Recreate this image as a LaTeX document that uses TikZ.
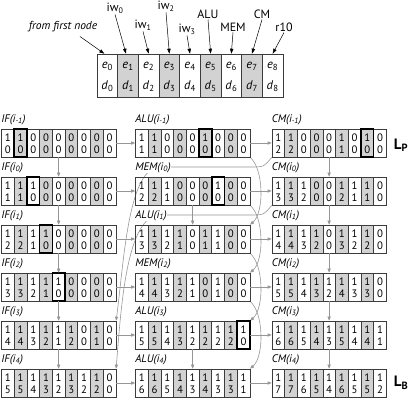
\documentclass[tikz,border=0pt]{standalone}
\usepackage{fontspec}
\setmainfont{PT Sans}
\usetikzlibrary{arrows.meta}
\pgfdeclarelayer{bg}
\pgfsetlayers{bg,main}
\definecolor{cellgray}{RGB}{210,210,210}
\definecolor{linegray}{RGB}{60,60,60}
\definecolor{arrgray}{RGB}{150,150,150}
\newcommand\dbox[7]{%
  \foreach \ci in {1,3,5,7}{\fill[cellgray] ({#2+\ci*12.7},#3) rectangle ++(12.7,28);}
  \foreach \ci in {1,...,8}{\draw[cellline] ({#2+\ci*12.7},#3) -- ++(0,28);}
  \node[boxnode] (#1) at ({#2+57.15},{#3+14}) {};
  \foreach \v [count=\ci from 0] in {#5}{\node[digit] (#1-t\ci) at ({#2+\ci*12.7+6.35},{#3+8.3}) {\v};}
  \foreach \v [count=\ci from 0] in {#6}{\node[digit] (#1-b\ci) at ({#2+\ci*12.7+6.35},{#3+20.3}) {\v};}
  \ifnum#7>-1 \draw[hl] ({#2+#7*12.7},#3) rectangle ++(12.7,28);\fi
  \node[lab] (#1-lab) at ({#2-1},{#3-9.5}) {#4};
}
\begin{document}
\begin{tikzpicture}[x=1pt,y=-1pt,
  digit/.style={inner sep=0pt, font=\fontsize{10.8}{11}\selectfont},
  lab/.style={inner sep=0.6pt, fill=white, font=\fontsize{11}{12}\selectfont\itshape, anchor=west},
  boxnode/.style={draw=linegray, line width=0.6pt, minimum width=114.3pt, minimum height=28pt, inner sep=0pt},
  cellline/.style={draw=linegray, line width=0.5pt},
  hl/.style={draw=black, line width=1.6pt},
  garrow/.style={draw=arrgray, line width=0.6pt, -{Triangle[length=4pt,width=3.2pt]}},
  karrow/.style={draw=black, line width=0.5pt, -{Triangle[length=5pt,width=3.4pt]}},
  toplab/.style={inner sep=1pt, font=\fontsize{12}{13}\selectfont},
  topcell/.style={inner sep=0pt, font=\fontsize{12.5}{13}\selectfont},
]
\useasboundingbox (0,0) rectangle (413,406);
% ---------- top vector box ----------
\foreach \k in {1,3,5,7}{\fill[cellgray] ({97+\k*20.667},54) rectangle ++(20.667,43);}
\foreach \k in {1,...,8}{\draw[cellline] ({97+\k*20.667},54) -- ++(0,43);}
\node[boxnode, minimum width=186pt, minimum height=43pt] (topbox) at (190,75.5) {};
\foreach \k in {0,...,8}{
  \node[topcell] (e\k) at ({107.33+\k*20.667},66.5) {\textit{e}\textsubscript{\k}};
  \node[topcell] (d\k) at ({107.33+\k*20.667},86.5) {\textit{d}\textsubscript{\k}};
}
\node[toplab, font=\fontsize{11.5}{12}\selectfont\itshape] (ffn) at (63,27) {from first node};
\node[toplab] (iw0) at (115,8) {iw\textsubscript{0}};
\node[toplab] (iw1) at (143,25) {iw\textsubscript{1}};
\node[toplab] (iw2) at (166,6) {iw\textsubscript{2}};
\node[toplab] (iw3) at (187,29) {iw\textsubscript{3}};
\node[toplab] (alu) at (208,14) {ALU};
\node[toplab] (mem) at (233,27) {MEM};
\node[toplab] (cm) at (262,14) {CM};
\node[toplab] (r10) at (284,27) {r10};
\draw[karrow] ([xshift=17pt,yshift=-3pt]ffn.south) -- ([xshift=-3pt]e0.center |- topbox.north);
\draw[karrow] (iw0.south) -- ([xshift=-2pt]e1.center |- topbox.north);
\draw[karrow] (iw1.south) -- (e2.center |- topbox.north);
\draw[karrow] (iw2.south) -- (e3.center |- topbox.north);
\draw[karrow] (iw3.south) -- (e4.center |- topbox.north);
\draw[karrow] (alu.south) -- (e5.center |- topbox.north);
\draw[karrow] (mem.south) -- (e6.center |- topbox.north);
\draw[karrow] (cm.south) -- (e7.center |- topbox.north);
\draw[karrow] (r10.south) -- (e8.center |- topbox.north);
% ---------- column 1 ----------
\dbox{if1}{1.5}{129}{IF(i\textsubscript{-1})}{1,1,0,0,0,0,0,0,0}{0,0,0,0,0,0,0,0,0}{1}
\dbox{if2}{1.5}{177}{IF(i\textsubscript{0})}{1,1,1,0,0,0,0,0,0}{1,1,0,0,0,0,0,0,0}{2}
\dbox{if3}{1.5}{225}{IF(i\textsubscript{1})}{1,1,1,1,0,0,0,0,0}{2,2,1,0,0,0,0,0,0}{3}
\dbox{if4}{1.5}{273}{IF(i\textsubscript{2})}{1,1,1,1,1,0,0,0,0}{3,3,2,1,0,0,0,0,0}{4}
\dbox{if5}{1.5}{321}{IF(i\textsubscript{3})}{1,1,1,1,1,1,0,1,0}{4,4,3,2,1,2,0,1,0}{-1}
\dbox{if6}{1.5}{369}{IF(i\textsubscript{4})}{1,1,1,1,1,1,1,1,0}{5,5,4,3,2,3,2,2,0}{-1}
% ---------- column 2 ----------
\dbox{c21}{135.5}{129}{ALU(i\textsubscript{-1})}{1,1,0,0,0,1,0,0,0}{1,1,0,0,0,0,0,0,0}{5}
\dbox{c22}{135.5}{177}{MEM(i\textsubscript{0})}{1,1,1,0,0,0,1,0,0}{2,2,1,0,0,0,0,0,0}{6}
\dbox{c23}{135.5}{225}{ALU(i\textsubscript{1})}{1,1,1,1,0,1,1,0,0}{3,3,2,1,0,1,1,0,0}{-1}
\dbox{c24}{135.5}{273}{MEM(i\textsubscript{2})}{1,1,1,1,1,0,1,0,0}{4,4,3,2,1,0,1,0,0}{-1}
\dbox{c25}{135.5}{321}{ALU(i\textsubscript{3})}{1,1,1,1,1,1,1,1,1}{5,5,4,3,2,2,2,2,0}{8}
\dbox{c26}{135.5}{369}{ALU(i\textsubscript{4})}{1,1,1,1,1,1,1,1,1}{6,6,5,4,3,4,3,3,1}{-1}
% ---------- column 3 ----------
\dbox{cm1}{272}{129}{CM(i\textsubscript{-1})}{1,1,0,0,0,1,0,1,0}{2,2,0,0,0,1,0,0,0}{7}
\dbox{cm2}{272}{177}{CM(i\textsubscript{0})}{1,1,1,0,0,1,1,1,0}{3,3,2,0,0,2,1,1,0}{-1}
\dbox{cm3}{272}{225}{CM(i\textsubscript{1})}{1,1,1,1,0,1,1,1,0}{4,4,3,2,0,3,2,2,0}{-1}
\dbox{cm4}{272}{273}{CM(i\textsubscript{2})}{1,1,1,1,1,1,1,1,0}{5,5,4,3,2,4,3,3,0}{-1}
\dbox{cm5}{272}{321}{CM(i\textsubscript{3})}{1,1,1,1,1,1,1,1,1}{6,6,5,4,3,5,4,4,1}{-1}
\dbox{cm6}{272}{369}{CM(i\textsubscript{4})}{1,1,1,1,1,1,1,1,1}{7,7,6,5,4,6,5,5,2}{-1}
\node[inner sep=0pt, font=\fontsize{15}{16}\selectfont\bfseries] (lp) at (401,145) {L\textsubscript{P}};
\node[inner sep=0pt, font=\fontsize{15}{16}\selectfont\bfseries] (lb) at (401,383) {L\textsubscript{B}};
% ---------- connectors ----------
\foreach \r in {1,...,6}{
  \draw[garrow] (if\r.east) -- (c2\r.west);
  \draw[garrow] (c2\r.east) -- (cm\r.west);
}
\foreach \r/\s in {1/2,2/3,3/4,4/5,5/6}{
  \draw[garrow] (if\r.south) -- (if\s.north);
  \draw[garrow] (cm\r.south) -- (cm\s.north);
}
\draw[garrow] (c22.south) -- (c23.north);
\draw[garrow] (c25.south) -- (c26.north);
\begin{pgfonlayer}{bg}
\draw[garrow] (cm1.south west) .. controls (264,167) .. (250,167) -- (160,167) .. controls (128,167) and (124,262) .. (if5.north east);
\draw[garrow] (cm2.south west) .. controls (264,215) .. (250,215) -- (160,215) .. controls (126,215) and (121,310) .. (if6.north east);
\draw[garrow] (c21.south east) .. controls +(14,12) and +(14,-12) .. (c23.north east);
\draw[garrow] (c22.south east) .. controls +(14,12) and +(14,-12) .. (c24.north east);
\draw[garrow] (c23.south east) .. controls +(14,12) and +(14,-12) .. (c25.north east);
\draw[garrow] (c24.south east) .. controls +(14,12) and +(14,-12) .. (c26.north east);
\end{pgfonlayer}
\end{tikzpicture}
\end{document}
